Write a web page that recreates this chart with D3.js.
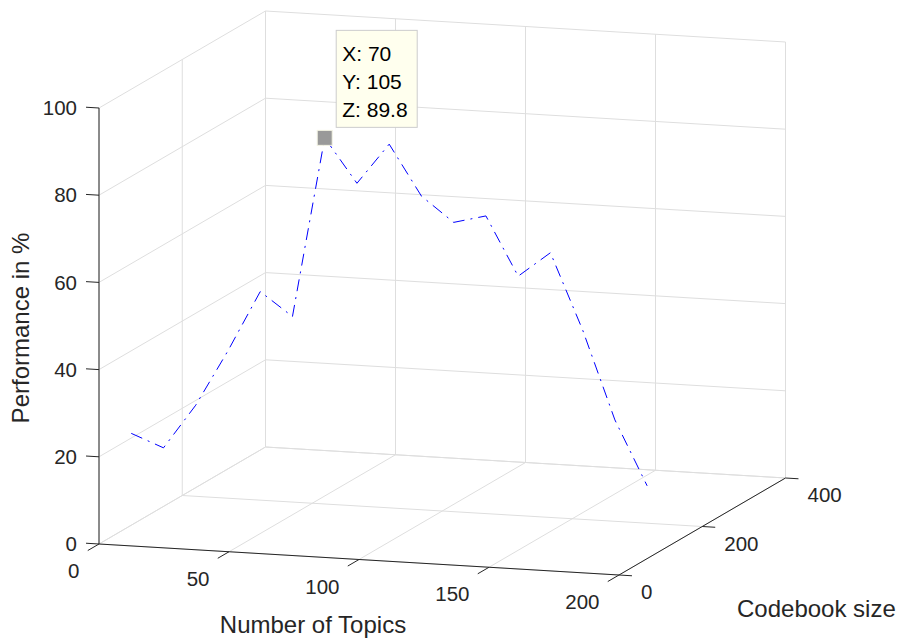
<!DOCTYPE html>
<html>
<head>
<meta charset="utf-8">
<script src="https://cdn.jsdelivr.net/npm/d3@7"></script>
<style>
  body { margin: 0; background: #fff; }
  svg { font-family: "Liberation Sans", Arial, Helvetica, sans-serif; }
</style>
</head>
<body>
<div id="chart"></div>
<script>
// data
const topics = [10, 20, 30, 40, 50, 60, 70, 80, 90, 100, 110, 120, 130, 140, 150, 160, 170];
const codebook = [15, 30, 45, 60, 75, 90, 105, 120, 135, 150, 165, 180, 195, 210, 225, 240, 255];
const performance = [24.9, 21.1, 30.4, 42.4, 55.5, 49.3, 89.8, 78.9, 87.4, 75.0, 68.5, 69.5, 55.2, 60.1, 41.9, 20.8, 5.2];

const xTicks = [0, 50, 100, 150, 200];
const yTicks = [0, 200, 400];
const zTicks = [0, 20, 40, 60, 80, 100];
const tipIndex = 6;

const W = 898, H = 638;
const svg = d3.select("#chart").append("svg")
  .attr("width", W)
  .attr("height", H);

svg.append("rect").attr("width", W).attr("height", H).attr("fill", "#fff");

// scales: each axis maps to a fraction of its edge of the box
const x = d3.scaleLinear().domain([0, 200]).range([0, 1]);
const y = d3.scaleLinear().domain([0, 400]).range([0, 1]);
const z = d3.scaleLinear().domain([0, 100]).range([0, 1]);

// view: box edges on screen
const origin = [99, 544];
const ex = [520, 31], ey = [166.5, -97], ez = [0, -436];

function proj(a, b, c) {
  const u = x(a), v = y(b), w = z(c);
  return [
    origin[0] + u * ex[0] + v * ey[0] + w * ez[0],
    origin[1] + u * ex[1] + v * ey[1] + w * ez[1]
  ];
}

const [x0, x1] = x.domain(), [y0, y1] = y.domain(), [z0, z1] = z.domain();

// grid lines on floor, back wall and left wall
const grid = [];
xTicks.forEach(t => {
  grid.push([[t, y0, z0], [t, y1, z0]]);
  grid.push([[t, y1, z0], [t, y1, z1]]);
});
yTicks.forEach(t => {
  grid.push([[x0, t, z0], [x1, t, z0]]);
  grid.push([[x0, t, z0], [x0, t, z1]]);
});
zTicks.forEach(t => {
  grid.push([[x0, y1, t], [x1, y1, t]]);
  grid.push([[x0, y0, t], [x0, y1, t]]);
});

svg.append("g")
  .selectAll("line")
  .data(grid)
  .join("line")
  .attr("x1", d => proj(...d[0])[0])
  .attr("y1", d => proj(...d[0])[1])
  .attr("x2", d => proj(...d[1])[0])
  .attr("y2", d => proj(...d[1])[1])
  .attr("stroke", "#dedede")
  .attr("stroke-width", 1);

// axis lines
const axisColor = "#262626";
const axes = [
  [[x0, y0, z0], [x0, y0, z1]],
  [[x0, y0, z0], [x1, y0, z0]],
  [[x1, y0, z0], [x1, y1, z0]]
];
svg.append("g")
  .selectAll("line")
  .data(axes)
  .join("line")
  .attr("x1", d => proj(...d[0])[0])
  .attr("y1", d => proj(...d[0])[1])
  .attr("x2", d => proj(...d[1])[0])
  .attr("y2", d => proj(...d[1])[1])
  .attr("stroke", axisColor)
  .attr("stroke-width", 1);

// tick marks
const tickLen = 13;
function unit(v) { const n = Math.hypot(v[0], v[1]); return [v[0] / n, v[1] / n]; }
const ux = unit(ex), uy = unit(ey);

const ticks = [];
xTicks.forEach(t => ticks.push({p: proj(t, y0, z0), d: [-uy[0], -uy[1]]}));
yTicks.forEach(t => ticks.push({p: proj(x1, t, z0), d: ux}));
zTicks.forEach(t => ticks.push({p: proj(x0, y0, t), d: [-ux[0], -ux[1]]}));

svg.append("g")
  .selectAll("line")
  .data(ticks)
  .join("line")
  .attr("x1", d => d.p[0])
  .attr("y1", d => d.p[1])
  .attr("x2", d => d.p[0] + d.d[0] * tickLen)
  .attr("y2", d => d.p[1] + d.d[1] * tickLen)
  .attr("stroke", axisColor)
  .attr("stroke-width", 1);

// tick labels
const labelSize = "20.5px";
svg.append("g")
  .selectAll("text")
  .data(xTicks)
  .join("text")
  .attr("x", d => proj(d, y0, z0)[0] - 19.5)
  .attr("y", d => proj(d, y0, z0)[1] + 27)
  .attr("dy", "0.35em")
  .attr("text-anchor", "end")
  .style("font-size", labelSize)
  .attr("fill", axisColor)
  .text(d => d);

svg.append("g")
  .selectAll("text")
  .data(yTicks)
  .join("text")
  .attr("x", d => proj(x1, d, z0)[0] + 22)
  .attr("y", d => proj(x1, d, z0)[1] + 17)
  .attr("dy", "0.35em")
  .attr("text-anchor", "start")
  .style("font-size", labelSize)
  .attr("fill", axisColor)
  .text(d => d);

svg.append("g")
  .selectAll("text")
  .data(zTicks)
  .join("text")
  .attr("x", d => proj(x0, y0, d)[0] - 22)
  .attr("y", d => proj(x0, y0, d)[1])
  .attr("dy", "0.35em")
  .attr("text-anchor", "end")
  .style("font-size", labelSize)
  .attr("fill", axisColor)
  .text(d => d);

// axis titles
svg.append("text")
  .attr("x", 313)
  .attr("y", 633)
  .attr("text-anchor", "middle")
  .style("font-size", "24px")
  .attr("fill", axisColor)
  .text("Number of Topics");

svg.append("text")
  .attr("x", 737)
  .attr("y", 617)
  .attr("text-anchor", "start")
  .style("font-size", "24px")
  .attr("fill", axisColor)
  .text("Codebook size");

svg.append("text")
  .attr("transform", "translate(28.5,328) rotate(-90)")
  .attr("text-anchor", "middle")
  .style("font-size", "24px")
  .attr("fill", axisColor)
  .text("Performance in %");

// the data line
const pts = topics.map((t, i) => proj(t, codebook[i], performance[i]));
svg.append("path")
  .datum(pts)
  .attr("d", d3.line())
  .attr("fill", "none")
  .attr("stroke", "#0000ff")
  .attr("stroke-width", 1)
  .attr("stroke-dasharray", "12,6,2,6");

// data tip
const tp = proj(topics[tipIndex], codebook[tipIndex], performance[tipIndex]);
svg.append("rect")
  .attr("x", tp[0] - 7.5)
  .attr("y", tp[1] - 7.5)
  .attr("width", 15)
  .attr("height", 15)
  .attr("fill", "#999999")
  .attr("stroke", "#f4f4e4")
  .attr("stroke-width", 1);

const tipLines = [
  "X: " + topics[tipIndex],
  "Y: " + codebook[tipIndex],
  "Z: " + performance[tipIndex]
];
const box = svg.append("g").attr("transform", `translate(${tp[0] + 11},${tp[1] - 108})`);
box.append("rect")
  .attr("x", 0.5)
  .attr("y", 0.5)
  .attr("width", 81)
  .attr("height", 97)
  .attr("fill", "#ffffee")
  .attr("stroke", "#cccccc");
box.selectAll("text")
  .data(tipLines)
  .join("text")
  .attr("x", 6.5)
  .attr("y", (d, i) => 23.5 + i * 28)
  .attr("dy", "0.35em")
  .style("font-size", "21px")
  .attr("fill", "#000")
  .text(d => d);
</script>
</body>
</html>
